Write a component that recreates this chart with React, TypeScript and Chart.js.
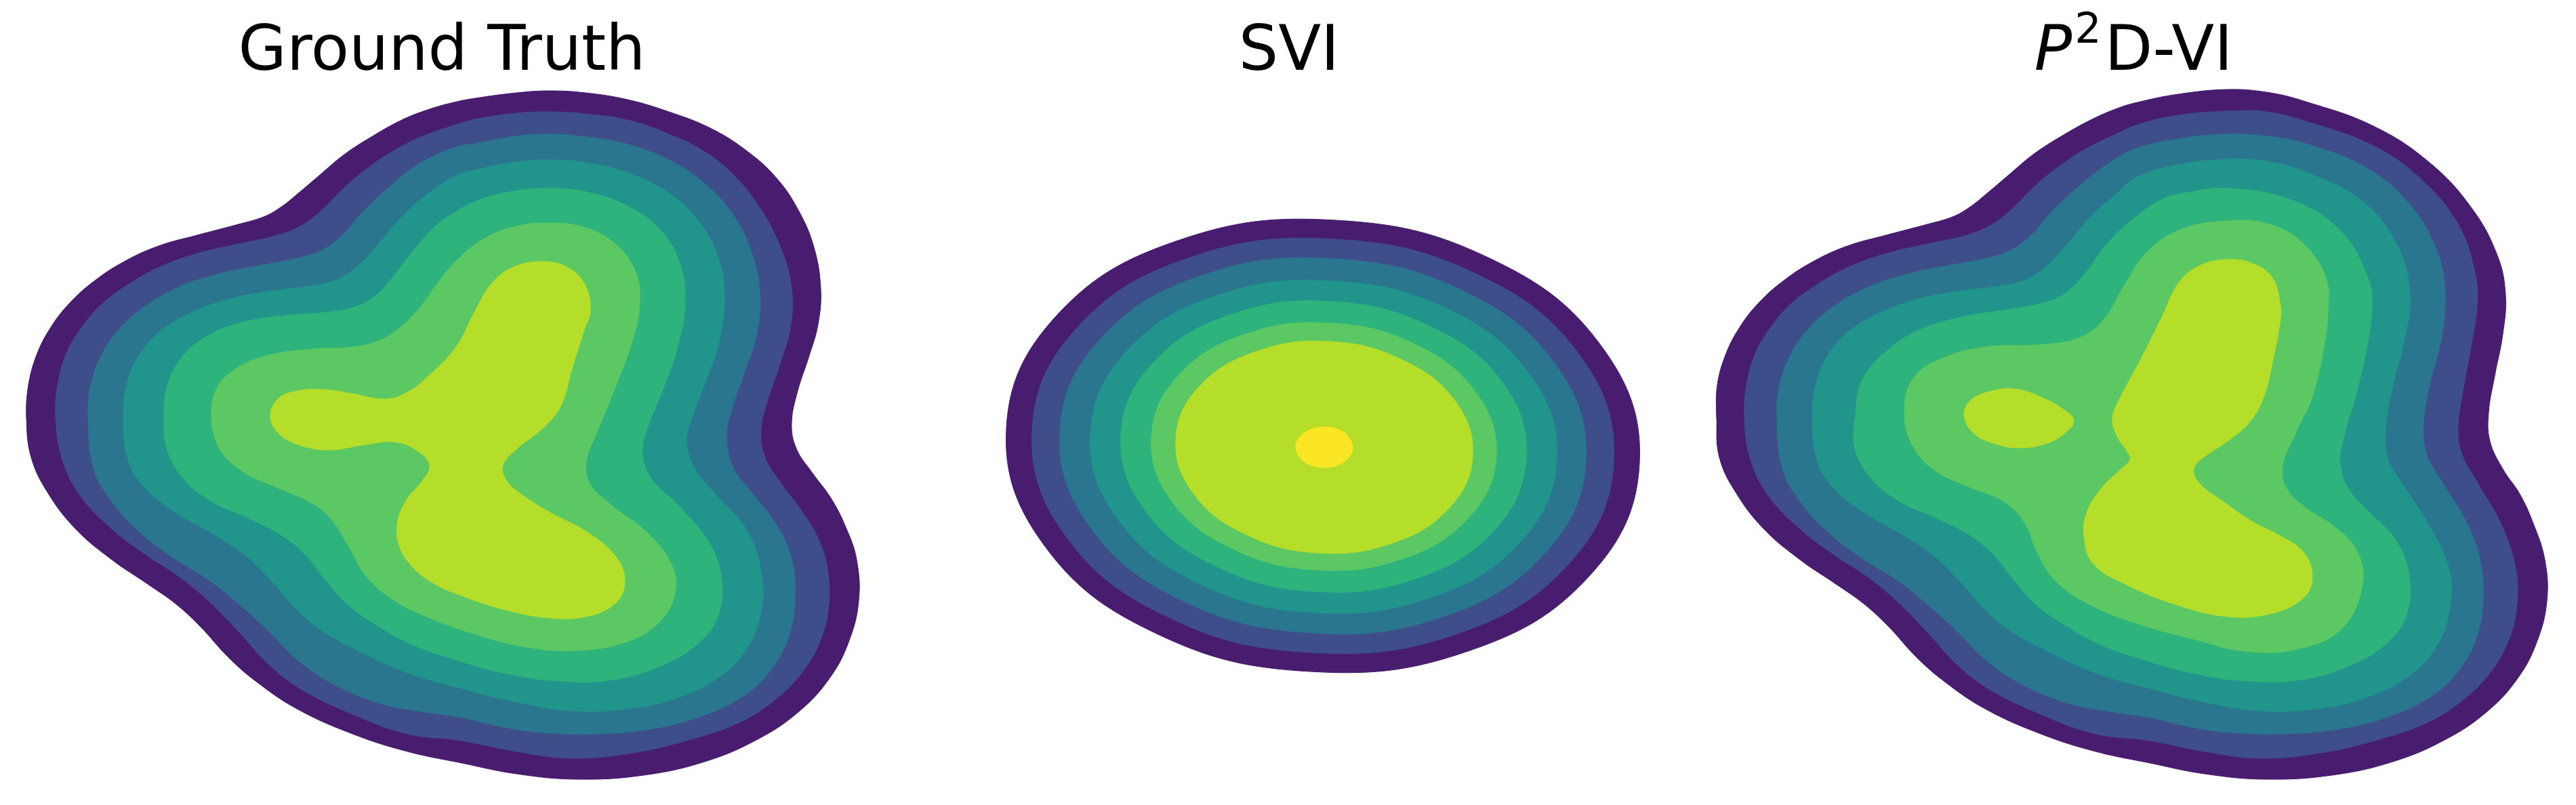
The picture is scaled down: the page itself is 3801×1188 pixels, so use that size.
import React, { useEffect, useRef } from "react";
import { Chart, registerables } from "chart.js";

Chart.register(...registerables);

type Pt = [number, number];

// ---------------- Contour levels (grid units, y grows downward) ----------------
// Ground Truth
const GT_L1: Pt[] = [[39,616],[42,569],[54,524],[75,483],[103,447],[140,414],[185,385],[234,363],[291,347],[348,332],[389,320],[414,306],[438,287],[471,259],[508,228],[548,202],[593,177],[634,161],[670,151],[701,145],[762,137],[811,134],[864,137],[926,147],[987,165],[1048,189],[1101,222],[1146,263],[1179,312],[1201,365],[1211,426],[1207,479],[1193,528],[1177,577],[1168,625],[1175,662],[1198,697],[1226,735],[1248,778],[1264,826],[1267,887],[1252,948],[1224,1001],[1179,1050],[1118,1091],[1040,1124],[950,1144],[852,1150],[762,1142],[681,1126],[601,1109],[520,1083],[438,1046],[377,1005],[336,969],[295,924],[259,891],[218,862],[165,826],[112,781],[71,728],[46,675]];
const GT_L2: Pt[] = [[82,616],[85,569],[97,524],[118,487],[148,451],[189,420],[238,393],[295,373],[357,359],[410,347],[446,332],[475,310],[508,277],[544,247],[585,220],[626,200],[670,185],[701,176],[762,167],[811,165],[864,168],[926,177],[987,198],[1040,224],[1085,261],[1122,308],[1150,361],[1167,418],[1167,479],[1150,540],[1132,593],[1123,636],[1128,673],[1150,710],[1180,750],[1205,790],[1220,834],[1223,891],[1211,944],[1183,993],[1142,1034],[1089,1067],[1020,1091],[934,1111],[844,1119],[762,1109],[681,1093],[601,1083],[520,1054],[446,1018],[397,981],[352,932],[308,887],[263,850],[214,818],[161,777],[116,728],[91,675]];
const GT_L3: Pt[] = [[130,616],[134,569],[148,528],[173,489],[210,455],[259,426],[316,406],[377,393],[430,383],[471,371],[503,349],[536,312],[573,277],[618,242],[670,218],[701,212],[762,201],[811,198],[864,202],[926,213],[987,236],[1040,271],[1081,316],[1109,373],[1121,434],[1116,496],[1097,553],[1079,606],[1072,647],[1082,690],[1110,728],[1146,775],[1168,825],[1173,880],[1165,935],[1140,985],[1100,1025],[1040,1055],[965,1075],[880,1083],[800,1081],[742,1073],[681,1059],[622,1050],[561,1038],[491,1009],[438,973],[397,932],[352,891],[308,856],[254,822],[206,785],[165,740],[138,691]];
const GT_L4: Pt[] = [[182,616],[187,569],[203,528],[234,491],[279,463],[336,442],[397,430],[459,422],[499,412],[532,389],[561,357],[593,320],[630,287],[670,261],[701,251],[762,239],[811,236],[864,240],[926,255],[987,285],[1032,328],[1060,381],[1069,438],[1062,500],[1042,561],[1022,614],[1013,651],[1025,691],[1058,732],[1101,781],[1122,838],[1124,895],[1105,952],[1064,997],[999,1030],[926,1046],[844,1049],[762,1036],[681,1016],[601,993],[532,962],[471,928],[434,895],[401,858],[365,822],[316,789],[259,756],[214,720],[189,679]];
const GT_L5: Pt[] = [[242,616],[246,573],[265,532],[299,500],[352,477],[418,466],[479,461],[524,453],[557,434],[585,402],[614,365],[642,334],[670,314],[700,298],[742,285],[803,278],[864,283],[926,304],[975,340],[1003,389],[1011,447],[1001,508],[979,573],[956,630],[948,667],[960,705],[1000,745],[1044,797],[1064,850],[1060,907],[1032,948],[979,981],[905,1003],[824,1005],[742,993],[670,973],[610,952],[552,920],[512,891],[479,854],[450,818],[414,789],[365,764],[312,740],[271,707],[246,662]];
const GT_L6: Pt[] = [[312,616],[320,573],[348,544],[397,524],[463,515],[520,512],[561,502],[593,481],[622,451],[644,420],[673,385],[713,353],[762,334],[811,329],[864,336],[909,361],[938,402],[944,447],[934,500],[909,569],[881,638],[866,677],[869,711],[898,742],[958,789],[993,838],[995,879],[971,920],[922,948],[852,960],[783,956],[701,936],[622,907],[577,883],[540,850],[516,809],[491,769],[463,744],[410,720],[357,695],[324,662]];
const GT_L7: Pt[] = [[399,616],[410,589],[438,577],[479,575],[520,581],[569,589],[601,579],[630,557],[673,512],[701,459],[726,418],[758,394],[803,386],[840,396],[864,422],[871,459],[862,487],[844,544],[828,598],[803,630],[762,663],[742,687],[748,710],[770,730],[811,756],[869,787],[909,822],[922,858],[909,889],[869,909],[811,912],[742,899],[681,879],[642,862],[610,838],[589,805],[587,769],[601,736],[622,711],[634,687],[614,664],[581,652],[540,656],[487,664],[446,658],[414,642]];

// SVI
const SVI_L1: Pt[] = [[218,631],[290,468],[468,356],[704,325],[935,383],[1099,515],[1152,685],[1080,848],[902,960],[666,991],[435,933],[271,801]];
const SVI_L2: Pt[] = [[256,633],[322,484],[486,381],[703,353],[915,406],[1066,527],[1114,683],[1048,832],[884,935],[667,963],[455,910],[304,789]];
const SVI_L3: Pt[] = [[297,635],[357,500],[505,407],[701,382],[893,430],[1029,539],[1073,681],[1013,816],[865,909],[669,934],[477,886],[341,777]];
const SVI_L4: Pt[] = [[342,639],[395,519],[526,437],[700,415],[871,457],[991,554],[1030,679],[977,799],[846,881],[672,904],[502,861],[381,764]];
const SVI_L5: Pt[] = [[387,642],[433,537],[547,465],[698,445],[846,483],[952,567],[985,676],[939,781],[825,853],[674,873],[526,835],[421,751]];
const SVI_L6: Pt[] = [[432,644],[471,555],[568,494],[697,477],[823,509],[912,581],[941,674],[901,763],[804,824],[675,841],[550,809],[460,737]];
const SVI_L7: Pt[] = [[468,647],[502,571],[586,519],[696,504],[804,532],[881,593],[906,673],[872,749],[789,801],[678,816],[570,788],[493,727]];
const SVI_L8: Pt[] = [[645,658],[651,645],[666,634],[687,630],[708,634],[723,645],[729,662],[723,675],[708,686],[687,690],[666,686],[651,675]];

// P2D-VI
const P2D_L1: Pt[] = [[-1,616],[0,569],[12,524],[33,483],[61,447],[98,414],[143,385],[192,363],[249,347],[306,332],[347,320],[372,306],[396,287],[429,259],[466,228],[506,202],[551,177],[590,160],[620,151],[680,139],[753,132],[810,136],[865,149],[968,186],[1051,240],[1113,307],[1151,377],[1163,435],[1159,493],[1147,555],[1138,609],[1140,651],[1159,692],[1184,729],[1203,770],[1221,826],[1224,887],[1209,948],[1181,1001],[1136,1050],[1075,1091],[997,1124],[907,1144],[809,1150],[719,1142],[638,1126],[558,1109],[477,1083],[395,1046],[334,1005],[293,969],[252,924],[216,891],[175,862],[122,826],[69,781],[28,728],[3,675]];
const P2D_L2: Pt[] = [[40,616],[43,569],[55,524],[76,487],[106,451],[147,420],[196,393],[253,373],[315,359],[368,347],[404,332],[433,310],[466,277],[502,247],[543,220],[584,200],[620,184],[680,170],[753,164],[810,165],[865,178],[968,215],[1039,265],[1093,331],[1118,402],[1121,452],[1111,518],[1099,584],[1093,634],[1099,671],[1122,713],[1155,770],[1177,834],[1180,891],[1168,944],[1140,993],[1099,1034],[1046,1067],[977,1091],[891,1111],[801,1119],[719,1109],[638,1093],[558,1083],[477,1054],[403,1018],[354,981],[309,932],[265,887],[220,850],[171,818],[118,777],[73,728],[48,675]];
const P2D_L3: Pt[] = [[88,616],[92,569],[106,528],[131,489],[168,455],[217,426],[274,406],[335,393],[388,383],[429,371],[461,349],[494,312],[531,277],[576,242],[616,220],[680,205],[753,198],[810,201],[865,211],[960,249],[1026,307],[1064,377],[1074,435],[1068,501],[1051,568],[1042,626],[1047,671],[1068,709],[1105,770],[1125,825],[1130,880],[1122,935],[1097,985],[1057,1025],[997,1055],[922,1075],[837,1083],[757,1081],[699,1073],[638,1059],[579,1050],[518,1038],[448,1009],[395,973],[354,932],[309,891],[265,856],[211,822],[163,785],[122,740],[96,691]];
const P2D_L4: Pt[] = [[140,616],[145,569],[161,528],[192,491],[237,463],[294,442],[355,430],[417,422],[457,412],[490,389],[519,357],[551,320],[588,287],[616,263],[680,243],[753,235],[810,238],[865,253],[948,294],[1002,360],[1022,435],[1014,501],[997,568],[986,634],[989,676],[1010,713],[1047,770],[1079,838],[1081,895],[1062,952],[1021,997],[956,1030],[883,1046],[801,1049],[719,1036],[638,1016],[558,993],[489,962],[428,928],[391,895],[358,858],[322,822],[273,789],[216,756],[171,720],[147,679]];
const P2D_L5: Pt[] = [[204,611],[212,565],[243,524],[294,489],[360,468],[421,458],[477,448],[513,433],[544,402],[574,361],[610,326],[657,294],[700,283],[753,278],[844,294],[919,340],[960,410],[966,452],[958,514],[944,576],[923,651],[919,684],[931,721],[960,754],[1001,797],[1021,850],[1017,907],[989,948],[936,981],[862,1003],[781,1005],[699,993],[627,973],[567,952],[509,920],[469,891],[436,854],[407,818],[371,789],[322,764],[269,740],[228,707],[203,662]];
const P2D_L6: Pt[] = [[276,611],[288,560],[329,530],[396,512],[472,509],[533,499],[569,473],[600,422],[635,371],[686,338],[753,326],[815,331],[865,360],[898,410],[901,460],[894,518],[877,588],[852,642],[834,688],[840,721],[869,750],[906,774],[942,810],[952,861],[921,928],[855,958],[778,961],[702,943],[625,922],[549,892],[498,856],[472,815],[452,769],[421,739],[370,718],[319,693],[288,657]];
const P2D_L7A: Pt[] = [[712,392],[753,383],[790,389],[819,410],[831,452],[830,477],[819,535],[807,584],[786,622],[753,651],[716,676],[703,692],[711,713],[749,742],[790,770],[829,790],[865,815],[878,851],[865,882],[819,905],[753,910],[676,892],[600,861],[554,831],[541,790],[546,754],[569,718],[595,693],[609,678],[605,667],[589,642],[583,616],[595,586],[625,530],[656,468],[681,417]];
const P2D_L7B: Pt[] = [[364,612],[375,590],[405,577],[440,574],[482,588],[512,605],[526,621],[514,638],[490,653],[447,661],[407,654],[377,638]];

// viridis-like fill colour of each contour level (outermost first)
const LEVEL_COLORS = ["#481c6e", "#3e4e8a", "#2a768e", "#21958b", "#2eb37c", "#5cc863", "#b5de2b", "#fbe625"];

interface Layer { level: number; pts: Pt[] }
interface Run { text: string; size: number; style?: string; rise?: number; gap?: number }

const GT_LAYERS: Layer[] = [
  { level: 0, pts: GT_L1 }, { level: 1, pts: GT_L2 }, { level: 2, pts: GT_L3 }, { level: 3, pts: GT_L4 },
  { level: 4, pts: GT_L5 }, { level: 5, pts: GT_L6 }, { level: 6, pts: GT_L7 },
];
const SVI_LAYERS: Layer[] = [
  { level: 0, pts: SVI_L1 }, { level: 1, pts: SVI_L2 }, { level: 2, pts: SVI_L3 }, { level: 3, pts: SVI_L4 },
  { level: 4, pts: SVI_L5 }, { level: 5, pts: SVI_L6 }, { level: 6, pts: SVI_L7 }, { level: 7, pts: SVI_L8 },
];
const P2D_LAYERS: Layer[] = [
  { level: 0, pts: P2D_L1 }, { level: 1, pts: P2D_L2 }, { level: 2, pts: P2D_L3 }, { level: 3, pts: P2D_L4 },
  { level: 4, pts: P2D_L5 }, { level: 5, pts: P2D_L6 }, { level: 6, pts: P2D_L7A }, { level: 6, pts: P2D_L7B },
];

// ---------------- layout ----------------
const FIG_W = 3801;
const FIG_H = 1188;
const PANEL_W = 1267;
const PAD = 40;
const CANVAS_W = PANEL_W + 2 * PAD;
const TITLE_BASELINE = 103;
const TITLE_FONT = '"DejaVu Sans", "Liberation Sans", sans-serif';

interface PanelDef { origin: number; titleX: number; runs: Run[]; layers: Layer[] }

const PANELS: PanelDef[] = [
  { origin: 0, titleX: 652, runs: [{ text: "Ground Truth", size: 92 }], layers: GT_LAYERS },
  { origin: 1267, titleX: 635, runs: [{ text: "SVI", size: 92 }], layers: SVI_LAYERS },
  {
    origin: 2534,
    titleX: 614,
    runs: [
      { text: "P", size: 92, style: "italic", gap: 4 },
      { text: "2", size: 62, rise: 40, gap: 5 },
      { text: "D-VI", size: 92 },
    ],
    layers: P2D_LAYERS,
  },
];

function closeRing(pts: Pt[]) {
  const ring = [...pts, pts[0], pts[1], pts[2]];
  return ring.map(([x, y]) => ({ x, y }));
}

function ContourPanel({ panel }: { panel: PanelDef }) {
  const ref = useRef<HTMLCanvasElement>(null);
  useEffect(() => {
    const canvas = ref.current;
    if (!canvas) return;
    const titlePlugin = {
      id: "panelTitle",
      afterDraw(chart: any) {
        const ctx = chart.ctx as CanvasRenderingContext2D;
        const cx = chart.scales.x.getPixelForValue(panel.titleX);
        const by = chart.scales.y.getPixelForValue(TITLE_BASELINE);
        ctx.save();
        ctx.fillStyle = "#000000";
        ctx.textAlign = "left";
        ctx.textBaseline = "alphabetic";
        const widths = panel.runs.map((r) => {
          ctx.font = `${r.style || "normal"} ${r.size}px ${TITLE_FONT}`;
          return ctx.measureText(r.text).width;
        });
        const total = panel.runs.reduce((s, r, i) => s + widths[i] + (r.gap || 0), 0);
        let x = cx - total / 2;
        panel.runs.forEach((r, i) => {
          ctx.font = `${r.style || "normal"} ${r.size}px ${TITLE_FONT}`;
          ctx.fillText(r.text, x, by - (r.rise || 0));
          x += widths[i] + (r.gap || 0);
        });
        ctx.restore();
      },
    };
    const chart = new Chart(canvas, {
      type: "line",
      data: {
        datasets: panel.layers.map((layer) => ({
          data: closeRing(layer.pts),
          fill: "shape",
          tension: 0.4,
          cubicInterpolationMode: "default",
          capBezierPoints: false,
          spanGaps: true,
          pointRadius: 0,
          pointHoverRadius: 0,
          borderWidth: 1,
          borderColor: LEVEL_COLORS[layer.level],
          backgroundColor: LEVEL_COLORS[layer.level],
          order: 20 - layer.level,
          clip: false,
        })),
      } as any,
      options: {
        animation: false,
        responsive: false,
        maintainAspectRatio: false,
        devicePixelRatio: 1,
        events: [],
        layout: { padding: 0 },
        plugins: {
          legend: { display: false },
          tooltip: { enabled: false },
          title: { display: false },
        },
        scales: {
          x: { type: "linear", min: -PAD, max: PANEL_W + PAD, display: false },
          y: { type: "linear", min: 0, max: FIG_H, reverse: true, display: false },
        },
      } as any,
      plugins: [titlePlugin],
    });
    return () => chart.destroy();
  }, [panel]);
  return (
    <canvas
      ref={ref}
      width={CANVAS_W}
      height={FIG_H}
      style={{ position: "absolute", left: panel.origin - PAD, top: 0, width: CANVAS_W, height: FIG_H }}
    />
  );
}

export default function App() {
  return (
    <div
      style={{
        position: "absolute",
        left: 0,
        top: 0,
        width: FIG_W,
        height: FIG_H,
        overflow: "hidden",
        background: "#ffffff",
      }}
    >
      {PANELS.map((p, i) => (
        <ContourPanel key={i} panel={p} />
      ))}
    </div>
  );
}
